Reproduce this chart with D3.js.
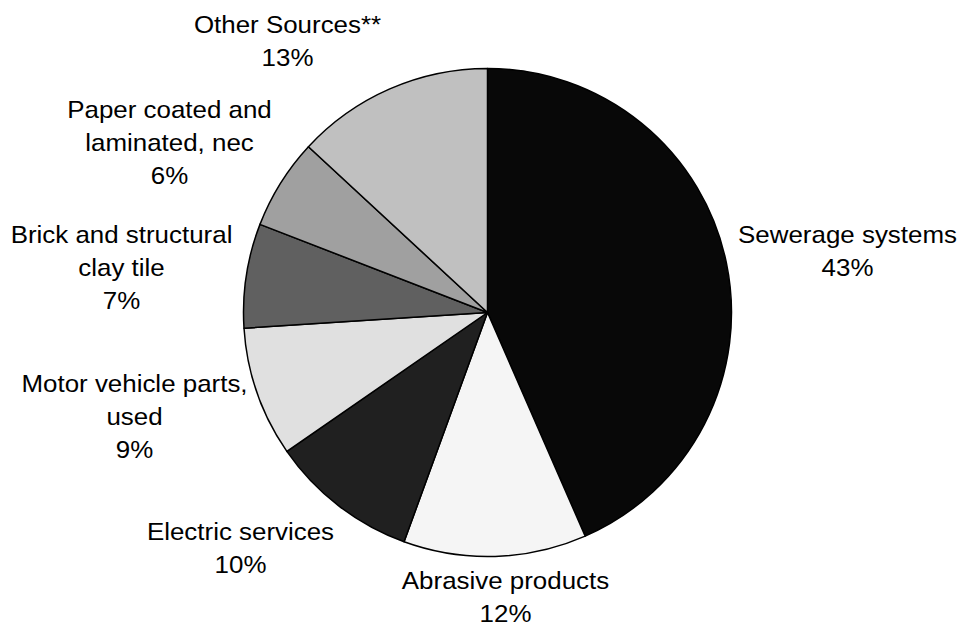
<!DOCTYPE html>
<html>
<head>
<meta charset="utf-8">
<script src="https://cdn.jsdelivr.net/npm/d3@7"></script>
<style>
  body { margin: 0; background: #fff; }
  svg { display: block; }
  text { font-family: "Liberation Sans", Arial, sans-serif; fill: #000; }
</style>
</head>
<body>
<div id="chart"></div>
<script>
const categories = [
  "Sewerage systems",
  "Abrasive products",
  "Electric services",
  "Motor vehicle parts, used",
  "Brick and structural clay tile",
  "Paper coated and laminated, nec",
  "Other Sources**"
];
const shares = [43.4, 12.1, 9.8, 8.6, 6.9, 6.0, 13.1];
// how each label is broken into lines
const labelLines = [
  ["Sewerage systems"],
  ["Abrasive products"],
  ["Electric services"],
  ["Motor vehicle parts,", "used"],
  ["Brick and structural", "clay tile"],
  ["Paper coated and", "laminated, nec"],
  ["Other Sources**"]
];

// styling, kept apart from the data
const fills = ["#080808", "#f5f5f5", "#202020", "#e0e0e0", "#606060", "#a0a0a0", "#c0c0c0"];
// label block centre, relative to pie centre (manually placed labels)
const labelOffsets = [
  [360, -62], [18, 284], [-247, 235], [-353, 104], [-366, -45], [-318, -170], [-200, -272]
];

const width = 962, height = 628;
const cx = 487.5, cy = 312.5, radius = 244;
const fontSize = 24, lineH = 33, stretch = 1.08;

const data = categories.map((c, i) => ({
  name: c, value: shares[i], lines: labelLines[i], fill: fills[i], off: labelOffsets[i]
}));

const svg = d3.select("#chart").append("svg")
  .attr("width", width)
  .attr("height", height);

const g = svg.append("g").attr("transform", `translate(${cx},${cy})`);

const pie = d3.pie().sort(null).value(d => d.value);
const arc = d3.arc().innerRadius(0).outerRadius(radius);

g.selectAll("path.slice")
  .data(pie(data))
  .join("path")
  .attr("class", "slice")
  .attr("d", arc)
  .attr("fill", d => d.data.fill)
  .attr("stroke", "#000")
  .attr("stroke-width", 1.5)
  .attr("stroke-linejoin", "round");

const labels = g.selectAll("g.label")
  .data(data)
  .join("g")
  .attr("class", "label")
  .attr("transform", d => `translate(${d.off[0]},${d.off[1]}) scale(${stretch},1)`);

labels.each(function (d) {
  const rows = d.lines.concat([Math.round(d.value) + "%"]);
  const first = -(rows.length - 1) * lineH / 2 + 0.358 * fontSize;
  const t = d3.select(this).append("text")
    .attr("text-anchor", "middle")
    .style("font-size", fontSize + "px");
  rows.forEach((r, i) => {
    t.append("tspan")
      .attr("x", 0)
      .attr("y", first + i * lineH)
      .text(r);
  });
});
</script>
</body>
</html>
